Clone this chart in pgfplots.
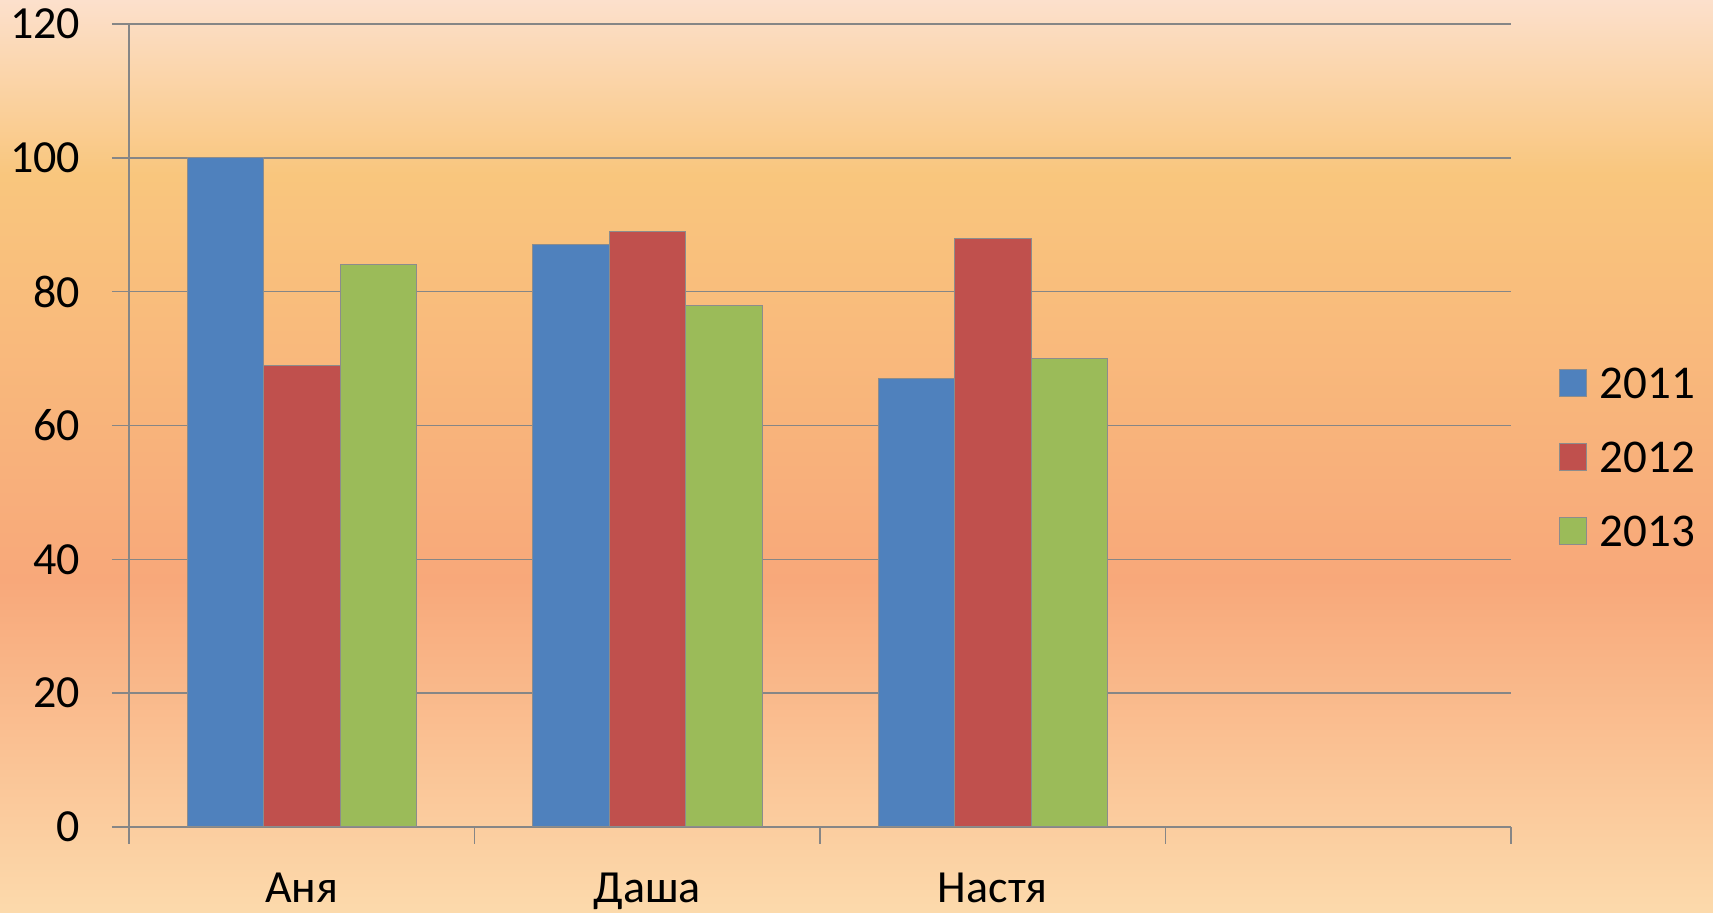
\documentclass[border=0pt]{standalone}
\usepackage{pgfplots}
\pgfplotsset{compat=1.18}
\usepackage{fontspec}
\setmainfont{Carlito}
\definecolor{c1}{RGB}{79,129,189}
\definecolor{c2}{RGB}{192,80,77}
\definecolor{c3}{RGB}{155,187,89}
\definecolor{gl}{RGB}{134,134,134}
\definecolor{bo}{RGB}{140,140,140}
\definecolor{bgA}{RGB}{252,224,204}
\definecolor{bgB}{RGB}{249,198,125}
\definecolor{bgC}{RGB}{248,168,122}
\definecolor{bgD}{RGB}{252,218,172}
\pgfplotsset{legsq/.style={legend image code/.code={\draw[##1,draw=bo] (0pt,-6.75pt) rectangle (13.5pt,6.75pt);}}}
\begin{document}
\begin{tikzpicture}
\path[use as bounding box] (0,0) rectangle (856.5pt,456.5pt);
\shade[top color=bgB, bottom color=bgA, shading angle=180] (0,369pt) rectangle (856.5pt,456.5pt);
\shade[top color=bgC, bottom color=bgB, shading angle=180] (0,166.5pt) rectangle (856.5pt,369.01pt);
\shade[top color=bgD, bottom color=bgC, shading angle=180] (0,0) rectangle (856.5pt,166.51pt);
\begin{axis}[
  at={(64.5pt,43pt)}, anchor=south west,
  scale only axis, width=691pt, height=401.5pt,
  ybar=0pt, bar width=38.25pt,
  xmin=-0.5, xmax=3.5, ymin=0, ymax=120,
  ytick={0,20,...,120},
  xtick={-0.5,0.5,1.5,2.5,3.5}, xticklabels={},
  extra x ticks={0,1,2}, extra x tick labels={Аня,Даша,Настя},
  extra x tick style={major tick length=0pt, major tick style={draw=none},
    xticklabel style={inner sep=0pt, text height=14.8pt, yshift=-22.9pt}},
  axis x line*=bottom, axis y line*=left,
  axis line style={draw=gl, line width=0.8pt, -},
  tick align=outside, major tick length=8.5pt,
  tick style={draw=gl, line width=0.8pt},
  ymajorgrids, grid style={draw=gl, line width=0.8pt},
  /pgf/number format/assume math mode=true,
  tick label style={font=\fontsize{23}{27.6}\selectfont, text=black},
  yticklabel style={inner sep=0pt, xshift=-15.8pt},
  legend style={at={(1.0347,0.461)}, anchor=west, draw=none, fill=none,
    font=\fontsize{23.5}{27.6}\selectfont, inner sep=0pt, row sep=21pt,
    nodes={inner sep=0pt, text height=16pt, text depth=0pt}},
  legend cell align=left,
]
\addplot[fill=c1, draw=bo, line width=0.5pt, legsq] coordinates {(0,100) (1,87) (2,67)};
\addplot[fill=c2, draw=bo, line width=0.5pt, legsq] coordinates {(0,69) (1,89) (2,88)};
\addplot[fill=c3, draw=bo, line width=0.5pt, legsq] coordinates {(0,84) (1,78) (2,70)};
\legend{\hspace{6.3pt}2011,\hspace{6.3pt}2012,\hspace{6.3pt}2013}
\end{axis}
\end{tikzpicture}
\end{document}
